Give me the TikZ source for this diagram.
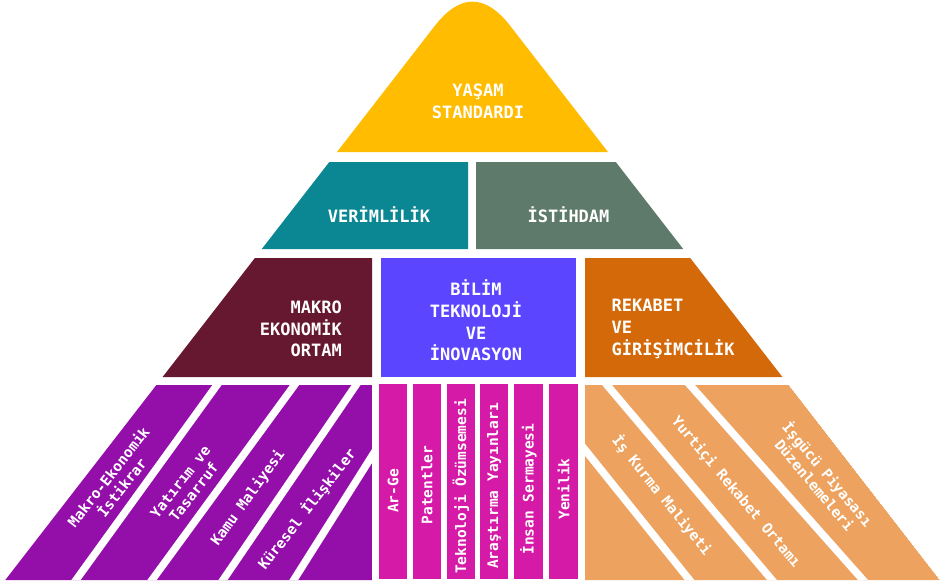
\documentclass[tikz,border=0pt]{standalone}
\usepackage{fontspec}
\setmonofont{DejaVu Sans Mono}
\definecolor{yasamrenk}{HTML}{FFBC00}
\definecolor{verimrenk}{HTML}{0B8793}
\definecolor{istihrenk}{HTML}{5E7A6B}
\definecolor{makrorenk}{HTML}{661830}
\definecolor{bilimrenk}{HTML}{5B45FF}
\definecolor{rekabetrenk}{HTML}{D4690A}
\definecolor{morrenk}{HTML}{940FAA}
\definecolor{pemberenk}{HTML}{D51AA8}
\definecolor{turuncurenk}{HTML}{EDA35F}

\begin{document}
\begin{tikzpicture}[x = 1pt, y = -1pt,
                    baslik/.style = {text = white,
                                     inner sep = 0pt,
                                     font = \fontsize{17}{21.7}\selectfont\ttfamily\bfseries},
                    serit/.style = {text = white,
                                    inner sep = 0pt,
                                    align = center,
                                    font = \fontsize{14.5}{17}\selectfont\ttfamily\bfseries},
                    ayrac/.style = {draw = white,
                                    line width = 7.5pt,
                                    shorten <=-15pt,
                                    shorten >=-15pt}]
		\path[use as bounding box, fill = white] (0,0) rectangle (942,583);

		% tepe
		\fill[yasamrenk] (337,152) -- (434.7,26) .. controls (459.9,-6.5) and (485.1,-6.5) .. (510.3,26) -- (608,152) -- cycle;

		% ikinci kat
		\fill[verimrenk] (329.3,162) -- (468,162) -- (468,249) -- (261.8,249) -- cycle;
		\fill[istihrenk] (476,162) -- (615.8,162) -- (683.2,249) -- (476,249) -- cycle;

		% ucuncu kat
		\fill[makrorenk] (254.9,258) -- (372,258) -- (372,377) -- (162.6,377) -- cycle;
		\fill[bilimrenk] (381,258) rectangle (576,377);
		\fill[rekabetrenk] (585,258) -- (690.2,258) -- (782.4,377) -- (585,377) -- cycle;

		% taban, sol blok
		\begin{scope}
			\clip (156.4,385) -- (372,385) -- (372,580) -- (5.3,580) -- cycle;
			\fill[morrenk] (156.4,385) -- (372,385) -- (372,580) -- (5.3,580) -- cycle;
			\draw[ayrac] (217,385) -- (76,580);
			\draw[ayrac] (294.5,385) -- (152,580);
			\draw[ayrac] (356,385) -- (223,580);
			\draw[ayrac] (372,456) -- (295,578);
		\end{scope}

		% taban, orta sutunlar
		\fill[pemberenk] (379,384) rectangle (407,579);
		\fill[pemberenk] (413,384) rectangle (441,579);
		\fill[pemberenk] (447,384) rectangle (475,579);
		\fill[pemberenk] (480,384) rectangle (508,579);
		\fill[pemberenk] (514,384) rectangle (543,579);
		\fill[pemberenk] (549,384) rectangle (578,579);

		% taban, sag blok
		\begin{scope}
			\clip (585,385) -- (788.6,385) -- (939.7,580) -- (585,580) -- cycle;
			\fill[turuncurenk] (585,385) -- (788.6,385) -- (939.7,580) -- (585,580) -- cycle;
			\draw[ayrac] (586,451) -- (689.5,580);
			\draw[ayrac] (607,385) -- (772,580);
			\draw[ayrac] (690,385) -- (863,580);
		\end{scope}

		\node[baslik, align = center] (yasam) at (478,101.5) {YAŞAM\\STANDARDI};
		\node[baslik] (verim) at (379,215) {VERİMLİLİK};
		\node[baslik] (istih) at (568.5,215) {İSTİHDAM};
		\node[baslik, align = right, anchor = east] (makro) at (342,329) {MAKRO\\EKONOMİK\\ORTAM};
		\node[baslik, align = center] (bilim) at (476,320.5) {BİLİM\\TEKNOLOJİ\\VE\\İNOVASYON};
		\node[baslik, align = left, anchor = west] (rekabet) at (611.5,329) {REKABET\\VE\\GİRİŞİMCİLİK};

		\node[serit, rotate = 52] (istikrar) at (115,482) {Makro-Ekonomik\\İstikrar};
		\node[serit, rotate = 52] (yatirim) at (187,487) {Yatırım ve\\Tasarruf};
		\node[serit, rotate = 54] (kamu) at (248,498) {Kamu Maliyesi};
		\node[serit, rotate = 52] (kuresel) at (307,509) {Küresel İlişkiler};

		\node[serit, rotate = 90] (arge) at (393,491) {Ar-Ge};
		\node[serit, rotate = 90] (patent) at (427,485) {Patentler};
		\node[serit, rotate = 90] (ozumseme) at (461,486.5) {Teknoloji Özümsemesi};
		\node[serit, rotate = 90] (yayin) at (494,486) {Araştırma Yayınları};
		\node[serit, rotate = 90] (sermaye) at (528.5,489) {İnsan Sermayesi};
		\node[serit, rotate = 90] (yenilik) at (563.5,489) {Yenilik};

		\node[serit, rotate = -51] (kurma) at (662,495) {İş Kurma Maliyeti};
		\node[serit, rotate = -50] (yurtici) at (736,492) {Yurtiçi Rekabet Ortamı};
		\node[serit, rotate = -50] (isgucu) at (822,479) {İşgücü Piyasası\\Düzenlemeleri};
	\end{tikzpicture}
\end{document}
